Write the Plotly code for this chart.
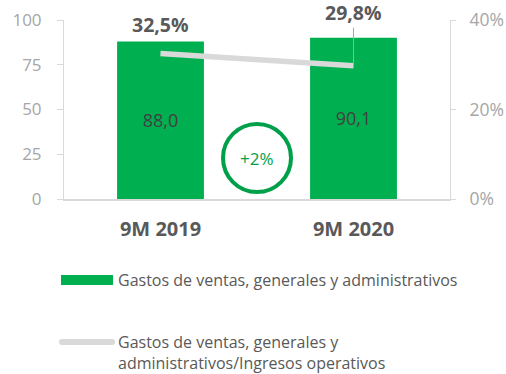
import plotly.graph_objects as go

# Data
periods = ["9M 2019", "9M 2020"]
gastos = [88.0, 90.1]                # Gastos de ventas, generales y administrativos
ratio = [0.325, 0.298]               # Gastos / Ingresos operativos
variacion = "+2%"

W, H = 506, 374
L, R, T, B = 64, 56, 20, 175
PW, PH = W - L - R, H - T - B

GREEN = "#00b050"
CIRCLE_GREEN = "#00a04a"
GREY_LINE = "#d9d9d9"
AXIS = "#d9d9d9"
TICK = "#a6a6a6"
DARK = "#595959"
FONT = "Open Sans"


def fmt(v, dec=1):
    return f"{v:.{dec}f}".replace(".", ",")


def px(xp):
    return (xp - L) / PW


def py(yp):
    return (T + PH - yp) / PH


fig = go.Figure()

fig.add_trace(go.Bar(
    x=periods, y=gastos, width=0.45,
    marker=dict(color=GREEN, line=dict(width=0)),
    text=[fmt(v) for v in gastos], textposition="inside",
    insidetextanchor="middle",
    textfont=dict(family=FONT, size=18, color="#404040"),
    showlegend=False, hoverinfo="skip",
))

fig.add_trace(go.Scatter(
    x=periods, y=ratio, yaxis="y2", mode="lines",
    line=dict(color=GREY_LINE, width=5.5),
    showlegend=False, hoverinfo="skip",
))

# Ratio labels
fig.add_annotation(x=periods[0], y=ratio[0], yref="y2", text="<b>" + fmt(ratio[0] * 100) + "%</b>",
                   showarrow=False, yshift=29,
                   font=dict(family=FONT, size=19.5, color=DARK))
fig.add_annotation(x=periods[1], y=ratio[1], yref="y2", text="<b>" + fmt(ratio[1] * 100) + "%</b>",
                   showarrow=True, arrowhead=0, arrowwidth=1, arrowcolor="#a6a6a6",
                   ax=0, ay=-53, standoff=2,
                   font=dict(family=FONT, size=19.5, color=DARK))

# Growth badge
fig.add_shape(type="circle", xref="paper", yref="paper",
              xsizemode="pixel", ysizemode="pixel",
              xanchor=0.5, yanchor=py(158),
              x0=-34, x1=34, y0=-34, y1=34,
              line=dict(color=CIRCLE_GREEN, width=4), fillcolor="rgba(0,0,0,0)")
fig.add_annotation(xref="paper", yref="paper", x=0.5, y=py(158), text=variacion,
                   xanchor="center", yanchor="middle",
                   showarrow=False, font=dict(family=FONT, size=17, color=CIRCLE_GREEN))

# Legend
fig.add_shape(type="rect", xref="paper", yref="paper",
              x0=px(61), x1=px(113), y0=py(285), y1=py(275),
              fillcolor=GREEN, line=dict(width=0))
fig.add_annotation(xref="paper", yref="paper", x=px(116), y=py(280),
                   xanchor="left", yanchor="middle", showarrow=False,
                   text="Gastos de ventas, generales y administrativos",
                   font=dict(family=FONT, size=16, color=DARK))
fig.add_shape(type="line", xref="paper", yref="paper",
              x0=px(62), x1=px(112), y0=py(342), y1=py(342),
              line=dict(color=GREY_LINE, width=6))
for cx in (62, 112):
    fig.add_shape(type="circle", xref="paper", yref="paper",
                  xsizemode="pixel", ysizemode="pixel",
                  xanchor=px(cx), yanchor=py(342), x0=-3, x1=3, y0=-3, y1=3,
                  fillcolor=GREY_LINE, line=dict(width=0))
fig.add_annotation(xref="paper", yref="paper", x=px(116), y=py(352.5),
                   xanchor="left", yanchor="middle", align="left", showarrow=False,
                   text="Gastos de ventas, generales y<br>administrativos/Ingresos operativos",
                   font=dict(family=FONT, size=16, color=DARK))

fig.update_layout(
    width=W, height=H,
    margin=dict(l=L, r=R, t=T, b=B),
    paper_bgcolor="white", plot_bgcolor="white",
    font=dict(family=FONT),
    bargap=0.55,
    xaxis=dict(
        automargin=False,
        showgrid=False, showline=True, linecolor=AXIS, linewidth=2,
        ticks="", ticklabelstandoff=11,
        tickfont=dict(family=FONT, size=20, color=DARK, weight="bold"),
    ),
    yaxis=dict(
        automargin=False,
        range=[0, 100], tickvals=[0, 25, 50, 75, 100],
        showgrid=False, zeroline=False, showline=True, linecolor=AXIS, linewidth=1,
        ticks="outside", ticklen=6, tickcolor=AXIS, ticklabelstandoff=12,
        tickfont=dict(family=FONT, size=17, color=TICK),
    ),
    yaxis2=dict(
        automargin=False,
        overlaying="y", side="right", range=[0, 0.4],
        tickvals=[0, 0.2, 0.4], ticktext=["0%", "20%", "40%"],
        showgrid=False, zeroline=False, showline=True, linecolor=AXIS, linewidth=1,
        ticks="outside", ticklen=5, tickcolor=AXIS, ticklabelstandoff=10,
        tickfont=dict(family=FONT, size=17.5, color=TICK),
    ),
)

fig.write_html("out.html")
